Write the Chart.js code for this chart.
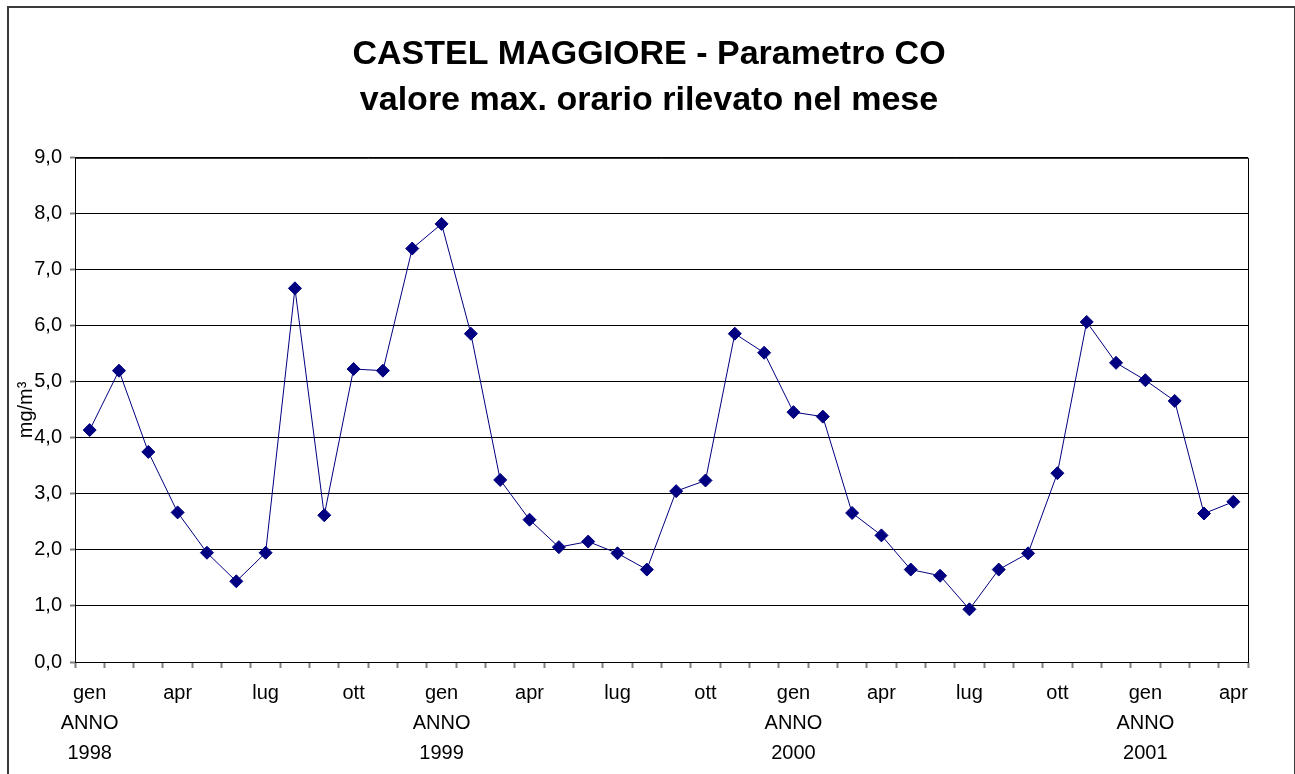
<!DOCTYPE html>
<html lang="it">
<head>
<meta charset="utf-8">
<title>CASTEL MAGGIORE - Parametro CO</title>
<script src="https://cdn.jsdelivr.net/npm/chart.js@4/dist/chart.umd.min.js"></script>
<style>
  html, body { margin: 0; padding: 0; background: #fff; overflow: hidden; }
  canvas { display: block; }
</style>
</head>
<body>
<canvas id="grafico" width="1295" height="774"></canvas>
<script>
// Mesi e anni dell'asse orizzontale
const mesi = ['gen', 'feb', 'mar', 'apr', 'mag', 'giu', 'lug', 'ago', 'set', 'ott', 'nov', 'dic'];
const anni = ['1998', '1999', '2000', '2001'];

// CO, valore max. orario rilevato nel mese (mg/m³)
const co1998 = [4.14, 5.20, 3.75, 2.67, 1.95, 1.44, 1.95, 6.67, 2.62, 5.23, 5.20, 7.38];
const co1999 = [7.82, 5.86, 3.25, 2.54, 2.05, 2.15, 1.94, 1.65, 3.05, 3.24, 5.86, 5.52];
const co2000 = [4.46, 4.38, 2.66, 2.26, 1.65, 1.54, 0.94, 1.65, 1.94, 3.37, 6.07, 5.34];
const co2001 = [5.03, 4.66, 2.65, 2.86];

// Asse Y
const yMin = 0;
const yMax = 9;
const yStep = 1;

const FONT = "'Liberation Sans', Arial, sans-serif";
const BLU = '#000080';

// costruisce etichette mese/anno e serie unica
const serieAnni = [co1998, co1999, co2000, co2001];
const categorie = [];
const valori = [];
serieAnni.forEach((serie, i) => {
    serie.forEach((v, m) => {
        categorie.push({ mese: mesi[m], anno: anni[i] });
        valori.push(v);
    });
});

// cornice esterna, bordo dell'area del grafico, titolo centrato sulla pagina
const cornice = {
    id: 'cornice',
    afterLayout(chart) {
        // il titolo va centrato sull'intera cornice, non sull'area del grafico
        const t = chart.titleBlock;
        if (t) t.left = 1298 - t.right;
    },
    beforeDraw(chart) {
        const ctx = chart.ctx;
        ctx.save();
        ctx.fillStyle = '#fff';
        ctx.fillRect(0, 0, chart.width, chart.height);
        ctx.strokeStyle = '#3a3a3a';
        ctx.lineWidth = 2;
        ctx.strokeRect(8, 7, chart.width - 8, chart.height + 20);
        ctx.restore();
    },
    afterDatasetsDraw(chart) {
        const a = chart.chartArea;
        const ctx = chart.ctx;
        ctx.save();
        ctx.strokeStyle = '#000';
        ctx.lineWidth = 1;
        ctx.beginPath();
        ctx.moveTo(a.left, a.top + 0.5);
        ctx.lineTo(a.right + 0.5, a.top + 0.5);
        ctx.lineTo(a.right + 0.5, a.bottom);
        ctx.stroke();
        ctx.restore();
    }
};

const ctx = document.getElementById('grafico').getContext('2d');

new Chart(ctx, {
    type: 'line',
    data: {
        labels: categorie.map(c => c.mese),
        datasets: [{
            label: 'CO',
            data: valori,
            borderColor: BLU,
            backgroundColor: BLU,
            borderWidth: 1,
            pointStyle: 'rectRot',
            pointRadius: 6.5,
            pointBorderWidth: 1,
            pointBorderColor: BLU,
            pointBackgroundColor: BLU,
            tension: 0
        }]
    },
    options: {
        responsive: false,
        animation: false,
        events: [],
        layout: {
            padding: { top: 32, left: 10, right: 47, bottom: 0 }
        },
        plugins: {
            legend: { display: false },
            tooltip: { enabled: false },
            title: {
                display: true,
                text: ['CASTEL MAGGIORE - Parametro CO', 'valore max. orario rilevato nel mese'],
                color: '#000',
                font: { family: FONT, size: 34, weight: 'bold', lineHeight: 1.35 },
                padding: { top: 0, bottom: 34 }
            }
        },
        scales: {
            x: {
                offset: true,
                afterFit(scale) { scale.height = 112; },
                grid: {
                    display: true,
                    offset: true,
                    drawOnChartArea: false,
                    tickLength: 6,
                    tickColor: '#808080',
                    tickWidth: 2
                },
                border: { display: true, color: '#000', width: 1 },
                ticks: {
                    autoSkip: false,
                    maxRotation: 0,
                    minRotation: 0,
                    padding: 10,
                    color: '#000',
                    font: { family: FONT, size: 20, lineHeight: 1.5 },
                    callback(value, index) {
                        if (index % 3 !== 0) return '';
                        const c = categorie[index];
                        return c.mese === 'gen' ? [c.mese, 'ANNO', c.anno] : c.mese;
                    }
                }
            },
            y: {
                min: yMin,
                max: yMax,
                afterFit(scale) { scale.width = 65; },
                grid: {
                    color: '#000',
                    lineWidth: 1,
                    tickLength: 5,
                    tickColor: '#808080',
                    tickWidth: 2
                },
                border: { display: true, color: '#000', width: 1 },
                ticks: {
                    stepSize: yStep,
                    padding: 8,
                    color: '#000',
                    font: { family: FONT, size: 20 },
                    callback: v => v.toFixed(1).replace('.', ',')
                },
                title: {
                    display: true,
                    text: 'mg/m³',
                    color: '#000',
                    font: { family: FONT, size: 20, lineHeight: 1.2 },
                    padding: { top: 4, bottom: 0 }
                }
            }
        }
    },
    plugins: [cornice]
});
</script>
</body>
</html>
